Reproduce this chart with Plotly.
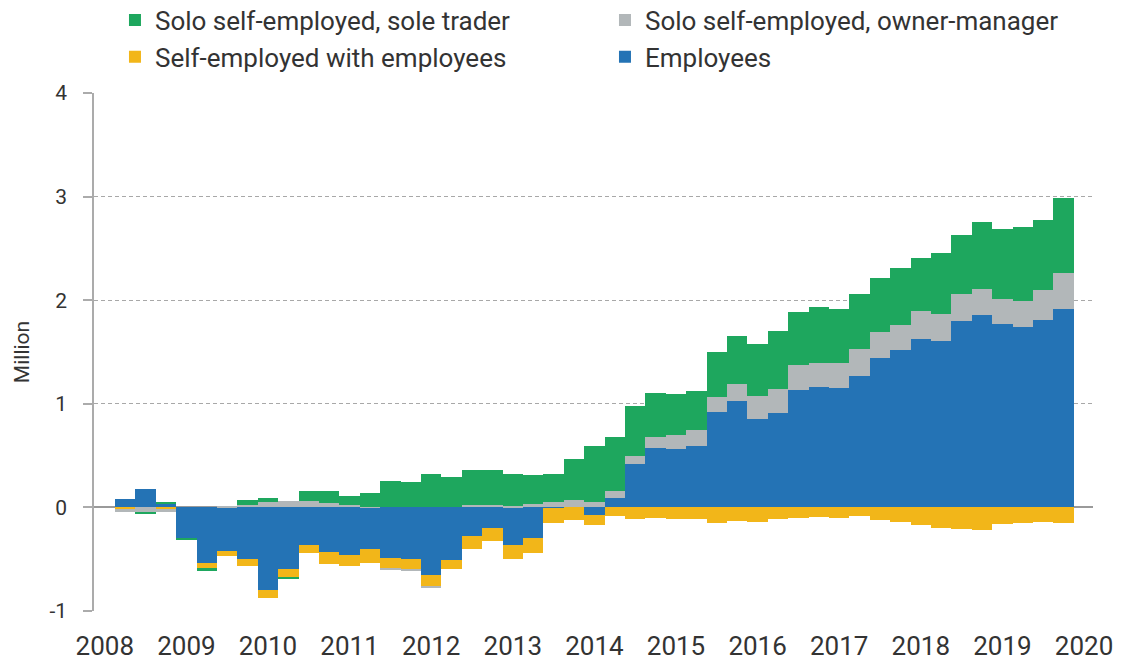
import plotly.graph_objects as go

quarters = [
    "2008Q2", "2008Q3", "2008Q4",
    "2009Q1", "2009Q2", "2009Q3", "2009Q4",
    "2010Q1", "2010Q2", "2010Q3", "2010Q4",
    "2011Q1", "2011Q2", "2011Q3", "2011Q4",
    "2012Q1", "2012Q2", "2012Q3", "2012Q4",
    "2013Q1", "2013Q2", "2013Q3", "2013Q4",
    "2014Q1", "2014Q2", "2014Q3", "2014Q4",
    "2015Q1", "2015Q2", "2015Q3", "2015Q4",
    "2016Q1", "2016Q2", "2016Q3", "2016Q4",
    "2017Q1", "2017Q2", "2017Q3", "2017Q4",
    "2018Q1", "2018Q2", "2018Q3", "2018Q4",
    "2019Q1", "2019Q2", "2019Q3", "2019Q4",
]

employees = [0.08, 0.18, 0.04, -0.30, -0.535, -0.42, -0.495, -0.80, -0.59, -0.36,
             -0.43, -0.455, -0.40, -0.485, -0.50, -0.65, -0.505, -0.28, -0.195, -0.36,
             -0.30, -0.01, 0.005, -0.07, 0.094, 0.415, 0.575, 0.565, 0.595, 0.922,
             1.025, 0.857, 0.915, 1.134, 1.163, 1.153, 1.269, 1.442, 1.519, 1.625,
             1.609, 1.796, 1.859, 1.773, 1.744, 1.808, 1.917]

with_employees = [-0.02, 0.0, -0.02, 0.0, -0.05, -0.05, -0.07, -0.07, -0.085, -0.077,
                  -0.115, -0.11, -0.14, -0.105, -0.10, -0.11, -0.087, -0.12, -0.13, -0.14,
                  -0.14, -0.145, -0.12, -0.10, -0.08, -0.11, -0.105, -0.115, -0.115, -0.15,
                  -0.128, -0.138, -0.112, -0.10, -0.095, -0.10, -0.087, -0.122, -0.141, -0.173,
                  -0.199, -0.208, -0.215, -0.16, -0.154, -0.144, -0.15]

owner_manager = [-0.025, -0.04, -0.02, 0.0, 0.0, 0.01, 0.02, 0.055, 0.06, 0.065,
                 0.04, 0.027, 0.005, -0.013, -0.013, -0.02, 0.0, 0.027, 0.02, 0.013,
                 0.035, 0.05, 0.07, 0.055, 0.06, 0.08, 0.103, 0.135, 0.155, 0.145,
                 0.17, 0.216, 0.232, 0.241, 0.228, 0.238, 0.26, 0.251, 0.241, 0.27,
                 0.26, 0.263, 0.248, 0.238, 0.25, 0.289, 0.341]

sole_trader = [0.0, -0.02, 0.01, -0.015, -0.025, 0.0, 0.05, 0.035, -0.012, 0.09,
               0.115, 0.083, 0.137, 0.255, 0.245, 0.32, 0.29, 0.333, 0.34, 0.312,
               0.28, 0.275, 0.39, 0.535, 0.53, 0.488, 0.427, 0.395, 0.37, 0.436,
               0.462, 0.504, 0.553, 0.513, 0.546, 0.52, 0.53, 0.523, 0.552, 0.517,
               0.582, 0.575, 0.648, 0.674, 0.71, 0.678, 0.732]

year_ticks = [2008, 2009, 2010, 2011, 2012, 2013, 2014, 2015, 2016, 2017, 2018, 2019, 2020]
y_ticks = [-1, 0, 1, 2, 3, 4]

# numeric position of each quarter (start of quarter)
xpos = [int(q[:4]) + (int(q[-1]) - 1) / 4 for q in quarters]

FONT = "Roboto"
TXT = "#333333"

series = [
    ("Employees", employees, "#2473B5", 4),
    ("Self-employed with employees", with_employees, "#F2B619", 3),
    ("Solo self-employed, owner-manager", owner_manager, "#B2B7B9", 2),
    ("Solo self-employed, sole trader", sole_trader, "#1EA75E", 1),
]

fig = go.Figure()
for name, vals, color, rank in series:
    fig.add_trace(go.Bar(
        x=xpos, y=vals, name=name, legendrank=rank,
        marker=dict(color=color, line=dict(width=0)),
        customdata=quarters,
        hovertemplate="%{customdata}: %{y}<extra>" + name + "</extra>",
    ))

fig.update_layout(
    width=1121, height=664,
    barmode="relative", bargap=0,
    paper_bgcolor="white", plot_bgcolor="white",
    margin=dict(l=94, r=28, t=93, b=53, autoexpand=False),
    font=dict(family=FONT, color=TXT),
    showlegend=True,
    legend=dict(
        orientation="h", x=0.021, xanchor="left", y=1.186, yanchor="top",
        entrywidth=445, entrywidthmode="pixels",
        font=dict(size=26, family=FONT, color=TXT),
        itemclick=False, itemdoubleclick=False,
        tracegroupgap=0,
    ),
    xaxis=dict(
        range=[2007.868, 2020.110],
        tickmode="array", tickvals=year_ticks, ticktext=[str(y) for y in year_ticks],
        showgrid=False, zeroline=False, showline=False, ticks="",
        tickfont=dict(size=26, family=FONT, color=TXT),
        ticklabelstandoff=17,
    ),
    yaxis=dict(
        range=[-1, 4],
        tickmode="array", tickvals=y_ticks, ticktext=[str(v) for v in y_ticks],
        showgrid=True, gridcolor="#A8A8A8", gridwidth=1.3, griddash="4px,3px",
        zeroline=True, zerolinecolor="#9A9A9A", zerolinewidth=1.5,
        showline=True, linecolor="#ABABAB", linewidth=1.5,
        ticks="outside", ticklen=9, tickcolor="#ABABAB", tickwidth=1.5,
        tickfont=dict(size=21, family=FONT, color=TXT),
        ticklabelstandoff=12,
        title=dict(text="Million", font=dict(size=21, family=FONT, color=TXT), standoff=14),
    ),
)

# remove the browser's default 8px page margin so the figure fills the window exactly
fig.write_html(
    "out.html",
    config={"displayModeBar": False},
    post_script="document.body.style.margin='0';",
)
